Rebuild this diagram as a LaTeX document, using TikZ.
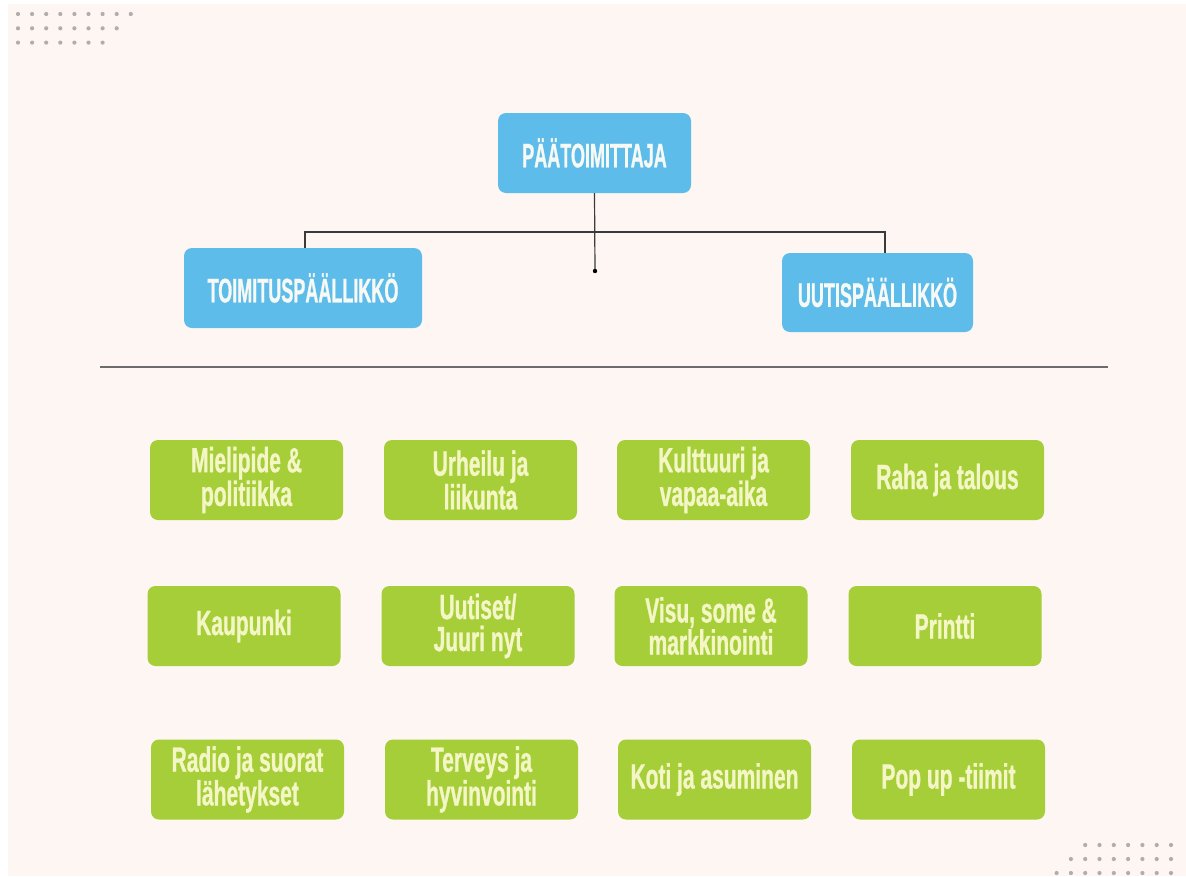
\documentclass[tikz,border=0pt]{standalone}
\usepackage{fontspec}
\newfontfamily\bluefont{Liberation Sans}[FakeStretch=0.53,FakeBold=0.8]
\newfontfamily\greenfont{Liberation Sans}[FakeStretch=0.60,FakeBold=0.8]
\definecolor{bgpink}{HTML}{FEF6F3}
\definecolor{boxblue}{HTML}{5DBCEA}
\definecolor{boxgreen}{HTML}{A6CE39}
\definecolor{creamtxt}{HTML}{F4F6C6}
\definecolor{whitetxt}{HTML}{F7F9F4}
\definecolor{dotgray}{HTML}{B0AEAD}
\definecolor{linegray}{HTML}{3A3A3A}
\begin{document}
\begin{tikzpicture}[x=1pt,y=-1pt,
  bluebox/.style={fill=boxblue, rounded corners=8pt, text=whitetxt, align=center,
    inner sep=0pt, font=\bluefont\bfseries\fontsize{34}{34}\selectfont},
  greenbox/.style={fill=boxgreen, rounded corners=8pt, text=creamtxt, align=center,
    minimum width=193pt, minimum height=80pt, inner sep=0pt,
    font=\greenfont\bfseries\fontsize{35}{32}\selectfont},
  conn/.style={draw=linegray, line width=1.2pt},
  bgdot/.style={fill=dotgray}]
\useasboundingbox (0,0) rectangle (1186,876);
\fill[white] (0,0) rectangle (1186,876);
\fill[bgpink] (8,4) rectangle (1186,876);
% decorative dots
\foreach \r/\n in {0/9,1/8,2/7}{
  \foreach \i in {1,...,\n}{
    \fill[bgdot] ({18+14.1*(\i-1)},{14+14.3*\r}) circle (2.1pt);
  }
}
\foreach \r/\n in {0/7,1/8,2/9}{
  \foreach \i in {1,...,\n}{
    \fill[bgdot] ({1171-14.3*(\i-1)},{845+14*\r}) circle (2.1pt);
  }
}
% top hierarchy
\node[bluebox, minimum width=193pt, minimum height=80pt] (chief) at (594.5,153) {PÄÄTOIMITTAJA};
\node[bluebox, minimum width=238pt, minimum height=80pt] (left) at (303,288) {TOIMITUSPÄÄLLIKKÖ};
\node[bluebox, minimum width=191pt, minimum height=79pt] (right) at (877.5,292.5) {UUTISPÄÄLLIKKÖ};
\coordinate (dotend) at (595,271);
\coordinate (junction) at (595,232);
\draw[conn] (chief.south) -- (dotend);
\fill[black] (dotend) circle (2.2pt);
\draw[conn] ([xshift=2pt]left.north) |- (junction) -| ([xshift=7.5pt]right.north);
% divider
\coordinate (divL) at (100,367);
\coordinate (divR) at (1108,367);
\draw[draw=gray!85!black, line width=1.4pt] (divL) -- (divR);
% green boxes
\node[greenbox] (g11) at (246.5,480) {Mielipide \&\\politiikka};
\node[greenbox] (g12) at (480.5,480) {Urheilu ja\\liikunta};
\node[greenbox] (g13) at (713.5,480) {Kulttuuri ja\\vapaa-aika};
\node[greenbox] (g14) at (947.5,480) {Raha ja talous};
\node[greenbox] (g21) at (244,626) {Kaupunki};
\node[greenbox] (g22) at (478,626) {Uutiset/\\Juuri nyt};
\node[greenbox] (g23) at (711,626) {Visu, some \&\\markkinointi};
\node[greenbox] (g24) at (945,626) {Printti};
\node[greenbox] (g31) at (247.5,779.5) {Radio ja suorat\\lähetykset};
\node[greenbox] (g32) at (481.5,779.5) {Terveys ja\\hyvinvointi};
\node[greenbox] (g33) at (714.5,779.5) {Koti ja asuminen};
\node[greenbox] (g34) at (948.5,779.5) {Pop up -tiimit};
\end{tikzpicture}
\end{document}
